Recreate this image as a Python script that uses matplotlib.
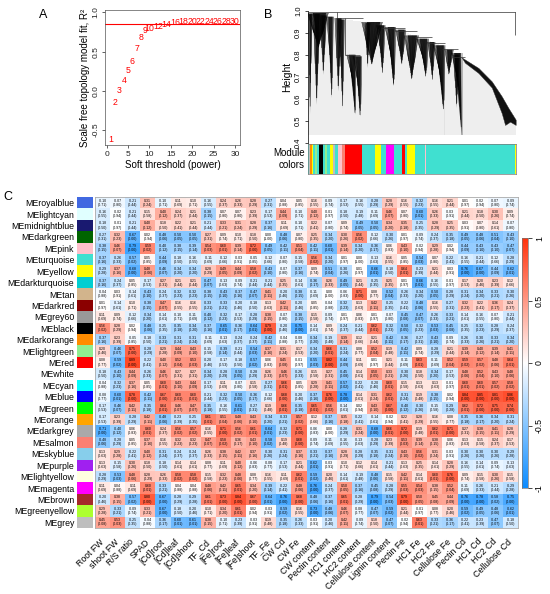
import math
import numpy as np
import matplotlib
matplotlib.use("Agg")
import matplotlib.pyplot as plt
from matplotlib.colors import LinearSegmentedColormap, ListedColormap
from matplotlib.collections import LineCollection, PolyCollection

plt.rcParams['font.family'] = ['Liberation Sans', 'DejaVu Sans']

# ---------------- Panel A data ----------------
sft_power = [1, 2, 3, 4, 5, 6, 7, 8, 9, 10, 12, 14, 16, 18, 20, 22, 24, 26, 28, 30]
sft_r2 = [-0.62, -0.15, 0.01, 0.13, 0.255, 0.37, 0.54, 0.68, 0.765, 0.79,
          0.82, 0.845, 0.87, 0.878, 0.885, 0.885, 0.887, 0.887, 0.888, 0.888]
r2_cutoff = 0.85

# ---------------- Panel B data ----------------
# spikes: (left frac, right frac, tip frac, top height, tip height)
dendro_spikes = [
    (0.000, 0.099, 0.051, 0.991, 0.832),
    (0.003, 0.022, 0.011, 0.986, 0.529),
    (0.027, 0.059, 0.043, 0.986, 0.574),
    (0.059, 0.091, 0.075, 0.980, 0.710),
    (0.091, 0.123, 0.115, 0.974, 0.605),
    (0.131, 0.163, 0.147, 0.968, 0.635),
    (0.147, 0.176, 0.167, 0.961, 0.559),
    (0.188, 0.231, 0.228, 0.801, 0.529),
    (0.220, 0.260, 0.252, 0.794, 0.521),
    (0.260, 0.359, 0.308, 0.950, 0.756),
    (0.276, 0.300, 0.288, 0.945, 0.741),
    (0.332, 0.372, 0.359, 0.935, 0.718),
    (0.372, 0.423, 0.413, 0.927, 0.658),
    (0.423, 0.471, 0.452, 0.915, 0.756),
    (0.465, 0.532, 0.500, 0.889, 0.688),
    (0.524, 0.580, 0.567, 0.874, 0.703),
    (0.577, 0.612, 0.599, 0.859, 0.688),
    (0.604, 0.660, 0.652, 0.844, 0.551),
    (0.660, 0.700, 0.679, 0.824, 0.710),
    (0.692, 0.740, 0.740, 0.809, 0.438),
    (0.700, 0.728, 0.716, 0.801, 0.559),
]
dendro_band_f = [0.740, 0.821, 0.885, 0.933, 0.965, 1.000, 1.000, 0.973, 0.949, 0.933, 0.885, 0.821, 0.756]
dendro_band_h = [0.789, 0.741, 0.680, 0.612, 0.559, 0.506, 0.482, 0.497, 0.482, 0.535, 0.652, 0.718, 0.765]
# horizontal merges: (f1, f2, h)
dendro_merges = [
    (0.000, 1.000, 0.995), (0.139, 0.268, 0.968), (0.179, 0.252, 0.801),
    (0.356, 0.468, 0.924), (0.420, 0.524, 0.909), (0.516, 0.596, 0.880),
    (0.580, 0.660, 0.853), (0.644, 0.724, 0.827), (0.692, 0.756, 0.789),
]
# vertical drops: (f, h_top, h_bottom)
dendro_drops = [(0.997, 0.995, 0.889), (0.179, 0.968, 0.801), (0.139, 0.995, 0.968)]
# roof envelope for the leaf lines
roof_f = [0.0, 0.10, 0.14, 0.27, 0.36, 0.42, 0.47, 0.52, 0.58, 0.64, 0.69, 0.74, 0.821, 0.885, 0.933, 0.965, 1.0]
roof_h = [0.99, 0.975, 0.968, 0.95, 0.93, 0.915, 0.905, 0.88, 0.865, 0.845, 0.82, 0.79, 0.741, 0.680, 0.612, 0.559, 0.506]
# module colour strip: (start frac, end frac, colour)
module_strip = [
    (0.000, 0.008, 'turquoise'), (0.008, 0.013, 'grey'), (0.013, 0.019, 'darkorange'),
    (0.019, 0.024, 'yellow'), (0.024, 0.037, 'turquoise'), (0.037, 0.043, 'lightgreen'),
    (0.043, 0.056, 'turquoise'), (0.056, 0.072, 'black'), (0.072, 0.083, 'turquoise'),
    (0.083, 0.094, 'lightgreen'), (0.094, 0.107, 'turquoise'), (0.107, 0.123, 'yellow'),
    (0.123, 0.131, 'grey'), (0.131, 0.144, 'turquoise'), (0.144, 0.166, 'pink'),
    (0.166, 0.178, 'salmon'), (0.178, 0.261, 'red'), (0.261, 0.325, 'turquoise'),
    (0.325, 0.354, 'yellow'), (0.354, 0.378, 'turquoise'), (0.378, 0.416, 'magenta'),
    (0.416, 0.454, 'turquoise'), (0.454, 0.470, 'red'), (0.470, 0.475, 'turquoise'),
    (0.475, 0.517, 'yellow'), (0.517, 0.563, 'turquoise'), (0.563, 0.571, 'pink'),
    (0.571, 0.997, 'turquoise'), (0.997, 1.000, 'yellow'),
]

# ---------------- Panel C data ----------------
modules = ['royalblue', 'lightcyan', 'midnightblue', 'darkgreen', 'pink', 'turquoise',
           'yellow', 'darkturquoise', 'tan', 'darkred', 'grey60', 'black', 'darkorange',
           'lightgreen', 'red', 'white', 'cyan', 'blue', 'green', 'orange', 'darkgrey',
           'salmon', 'skyblue', 'purple', 'lightyellow', 'magenta', 'brown',
           'greenyellow', 'grey']
traits = ['Root FW', 'shoot FW', 'R/S ratio', 'SPAD', '[Cd]root', '[Cd]leaf', '[Cd]shoot',
          'TF_Cd', '[Fe]root', '[Fe]leaf', '[Fe]shoot', 'TF_Fe', 'CW Cd', 'CW Fe',
          'CW content', 'Pectin content', 'HC1 content', 'HC2 content',
          'Cellulose content', 'Lignin content', 'Pectin Fe', 'HC1 Fe', 'HC2 Fe',
          'Cellulose Fe', 'Pectin Cd', 'HC1 Cd', 'HC2 Cd', 'Cellulose Cd']
n_samples = 16
module_trait_cor = [
    [-0.10, -0.07, -0.21, 0.31, -0.10, 0.11, 0.10, -0.16, 0.24, 0.26, 0.28, -0.27, 0.04, 0.05, 0.16, -0.09, -0.17, -0.16, -0.28, 0.28, 0.16, -0.32, 0.16, 0.21, 0.01, -0.02, -0.07, -0.09],
    [-0.16, -0.02, -0.21, 0.15, 0.40, 0.24, 0.21, -0.38, 0.07, 0.07, 0.23, -0.17, 0.44, -0.10, 0.40, -0.01, -0.18, -0.19, -0.11, 0.46, 0.07, -0.60, 0.26, -0.03, 0.21, 0.18, 0.30, 0.09],
    [-0.18, -0.01, -0.21, 0.40, 0.18, 0.22, 0.21, -0.21, 0.33, 0.31, 0.28, -0.37, 0.11, -0.10, 0.22, -0.07, 0.09, -0.49, -0.50, 0.34, 0.35, -0.25, 0.28, 0.25, 0.03, 0.07, 0.14, -0.07],
    [-0.27, 0.32, -0.67, 0.02, -0.48, -0.50, -0.50, 0.27, 0.09, 0.10, 0.18, 0.00, -0.48, 0.07, 0.25, -0.34, 0.30, 0.56, -0.12, -0.30, 0.01, -0.09, -0.24, -0.35, -0.49, -0.48, -0.51, -0.43],
    [-0.38, 0.46, -0.79, 0.59, -0.40, -0.38, -0.39, 0.54, 0.60, 0.39, 0.72, -0.49, -0.42, 0.51, -0.42, -0.60, 0.39, -0.34, -0.36, 0.06, 0.43, -0.02, 0.29, 0.02, -0.44, -0.43, -0.43, -0.47],
    [-0.37, -0.26, -0.57, 0.05, -0.44, -0.18, -0.16, -0.11, -0.12, -0.03, -0.05, -0.12, -0.07, -0.15, 0.56, -0.34, 0.01, 0.00, -0.13, 0.16, 0.05, -0.54, 0.07, -0.22, -0.16, -0.21, -0.12, -0.28],
    [-0.29, 0.37, -0.68, 0.48, -0.46, -0.34, -0.34, 0.28, 0.49, 0.44, 0.58, -0.43, -0.07, -0.37, 0.09, -0.51, -0.30, 0.01, -0.66, -0.18, 0.64, -0.23, 0.21, 0.03, -0.76, -0.67, -0.44, -0.62],
    [-0.37, -0.24, 0.05, -0.17, 0.27, 0.21, 0.21, -0.47, -0.13, -0.09, -0.21, -0.21, 0.25, -0.14, -0.36, 0.26, -0.49, 0.21, -0.25, 0.25, 0.01, -0.66, -0.16, -0.01, 0.17, 0.20, 0.23, 0.12],
    [-0.04, 0.03, -0.14, -0.43, -0.24, -0.32, -0.32, -0.38, -0.43, -0.37, -0.47, 0.41, -0.20, -0.38, -0.11, 0.00, -0.06, 0.71, 0.08, -0.52, -0.26, -0.34, -0.50, -0.28, -0.31, -0.34, -0.33, -0.30],
    [0.01, -0.14, 0.10, -0.38, 0.47, 0.16, 0.16, -0.33, -0.33, -0.20, -0.18, 0.13, 0.42, -0.20, 0.05, -0.04, -0.32, 0.13, 0.42, -0.25, -0.22, -0.48, 0.16, -0.27, 0.32, 0.22, 0.36, 0.24],
    [0.11, 0.09, -0.12, -0.34, -0.14, -0.10, -0.11, -0.40, -0.32, -0.17, -0.28, 0.38, -0.07, -0.38, 0.15, -0.09, 0.01, 0.06, 0.01, -0.07, -0.45, -0.47, -0.26, -0.33, -0.14, -0.16, -0.07, -0.21],
    [0.56, 0.28, 0.02, -0.48, -0.25, -0.35, -0.34, -0.37, -0.65, -0.36, -0.64, 0.79, -0.20, -0.75, -0.14, 0.09, -0.24, -0.21, 0.62, -0.32, -0.50, -0.32, -0.53, -0.45, -0.25, -0.32, -0.28, -0.24],
    [-0.37, 0.23, -0.05, -0.18, -0.33, -0.31, -0.31, -0.11, -0.13, -0.24, -0.24, -0.42, -0.04, -0.08, -0.34, -0.19, 0.39, 0.12, 0.21, -0.42, -0.36, -0.27, -0.43, -0.09, -0.26, -0.30, -0.33, -0.34],
    [0.20, -0.46, 0.75, -0.28, 0.29, 0.44, 0.43, -0.15, -0.39, -0.21, -0.54, 0.37, 0.31, 0.17, -0.34, 0.66, -0.31, 0.08, 0.52, 0.19, -0.42, 0.09, -0.28, 0.21, 0.39, 0.40, 0.39, 0.41],
    [0.08, -0.59, 0.89, -0.22, 0.40, 0.52, 0.53, -0.20, -0.17, -0.18, -0.57, 0.06, 0.45, -0.01, -0.55, 0.82, -0.44, 0.11, 0.01, 0.21, -0.11, 0.63, -0.11, 0.52, 0.59, 0.57, 0.48, 0.64],
    [-0.18, -0.43, 0.44, -0.26, 0.46, 0.27, 0.27, -0.34, -0.28, -0.50, -0.28, 0.26, 0.46, -0.26, 0.15, 0.27, -0.45, 0.14, 0.50, 0.33, -0.30, 0.18, -0.34, -0.17, 0.48, 0.52, 0.43, 0.48],
    [-0.04, -0.32, 0.37, 0.05, 0.60, 0.43, 0.44, -0.17, 0.11, -0.07, 0.15, -0.27, 0.66, 0.05, 0.29, 0.41, -0.57, -0.22, -0.20, 0.60, 0.15, 0.13, 0.13, -0.01, 0.60, 0.60, 0.57, 0.58],
    [-0.08, -0.60, 0.78, -0.42, 0.67, 0.60, 0.60, -0.21, -0.32, -0.50, -0.36, -0.12, 0.68, -0.20, -0.37, 0.76, -0.78, 0.14, 0.31, 0.62, -0.31, 0.19, -0.38, 0.02, 0.84, 0.85, 0.81, 0.86],
    [-0.17, -0.46, 0.42, -0.35, 0.64, 0.46, 0.47, -0.35, -0.16, -0.61, -0.27, 0.19, 0.66, -0.35, 0.65, 0.56, -0.14, 0.02, 0.43, 0.67, -0.40, -0.30, -0.15, -0.29, 0.62, 0.72, 0.75, 0.74],
    [-0.17, 0.23, -0.28, 0.42, -0.48, -0.23, -0.25, 0.61, 0.51, 0.48, 0.43, -0.34, -0.33, 0.57, 0.12, -0.37, 0.35, -0.22, -0.14, -0.02, 0.22, 0.28, 0.16, 0.08, -0.35, -0.36, -0.34, -0.31],
    [-0.71, -0.40, 0.06, 0.60, 0.24, 0.56, 0.57, 0.16, 0.71, 0.56, 0.61, -0.64, -0.32, 0.71, -0.06, 0.00, -0.28, 0.31, -0.68, 0.66, 0.72, 0.19, 0.62, 0.71, 0.27, 0.38, 0.41, 0.28],
    [-0.48, -0.28, 0.05, 0.37, 0.16, 0.32, 0.32, 0.47, 0.58, 0.36, 0.43, -0.58, 0.19, 0.68, -0.09, -0.11, -0.16, -0.13, -0.28, 0.23, 0.53, 0.39, 0.38, 0.06, 0.13, 0.15, 0.24, 0.17],
    [0.13, 0.29, -0.22, 0.40, -0.31, -0.24, -0.24, 0.26, 0.38, 0.42, 0.37, -0.30, -0.31, 0.37, -0.33, -0.37, 0.28, -0.28, -0.35, -0.31, 0.43, 0.56, 0.31, -0.03, -0.30, -0.30, -0.30, -0.29],
    [0.13, -0.15, 0.30, 0.18, -0.18, 0.14, 0.14, 0.08, 0.11, 0.40, -0.06, -0.08, -0.17, 0.21, -0.62, -0.03, 0.10, 0.12, 0.14, -0.21, 0.13, 0.25, 0.14, 0.28, -0.16, -0.14, -0.09, -0.13],
    [-0.28, -0.53, 0.48, 0.28, 0.26, 0.58, 0.58, 0.15, 0.32, 0.48, 0.08, 0.16, 0.11, 0.62, -0.59, 0.20, -0.14, -0.19, -0.48, 0.15, 0.42, 0.14, 0.60, 0.76, 0.09, 0.15, 0.30, 0.15],
    [0.11, 0.04, 0.11, 0.60, -0.33, 0.04, 0.04, 0.48, 0.42, 0.65, 0.34, -0.39, -0.22, 0.48, -0.76, -0.24, 0.50, -0.37, -0.45, -0.28, 0.55, 0.54, 0.38, 0.52, -0.11, -0.26, -0.21, -0.29],
    [-0.20, 0.38, -0.57, 0.80, -0.67, -0.28, -0.29, 0.61, 0.73, 0.84, 0.67, -0.64, -0.76, 0.68, -0.48, -0.37, 0.65, -0.28, -0.79, -0.54, 0.79, 0.50, 0.45, 0.44, -0.76, -0.78, -0.58, -0.75],
    [0.29, -0.33, -0.09, 0.33, -0.67, -0.18, -0.20, 0.10, 0.34, 0.61, 0.02, -0.03, -0.59, 0.16, -0.73, -0.48, 0.46, -0.08, -0.47, -0.59, 0.21, -0.01, 0.08, 0.20, -0.59, -0.49, -0.48, -0.62],
    [0.45, 0.53, -0.25, -0.04, -0.36, -0.60, -0.61, 0.38, -0.10, -0.23, -0.03, 0.19, -0.35, -0.26, -0.03, -0.20, 0.42, -0.09, 0.18, -0.47, -0.02, 0.63, -0.33, -0.36, -0.22, -0.23, -0.47, -0.18],
]

R_COLORS = {
    'royalblue': '#4169E1', 'lightcyan': '#E0FFFF', 'midnightblue': '#191970',
    'darkgreen': '#006400', 'pink': '#FFC0CB', 'turquoise': '#40E0D0', 'yellow': '#FFFF00',
    'darkturquoise': '#00CED1', 'tan': '#D2B48C', 'darkred': '#8B0000', 'grey60': '#999999',
    'black': '#000000', 'darkorange': '#FF8C00', 'lightgreen': '#90EE90', 'red': '#FF0000',
    'white': '#FFFFFF', 'cyan': '#00FFFF', 'blue': '#0000FF', 'green': '#00FF00',
    'orange': '#FFA500', 'darkgrey': '#A9A9A9', 'salmon': '#FA8072', 'skyblue': '#87CEEB',
    'purple': '#A020F0', 'lightyellow': '#FFFFE0', 'magenta': '#FF00FF', 'brown': '#A52A2A',
    'greenyellow': '#ADFF2F', 'grey': '#BEBEBE',
}


def cor_pvalue(r, n):
    df = n - 2
    if abs(r) >= 0.9999:
        return 0.0
    t = abs(r) * math.sqrt(df / (1 - r * r))
    c = math.gamma((df + 1) / 2) / (math.sqrt(df * math.pi) * math.gamma(df / 2))
    x = np.linspace(t, t + 80, 40001)
    pdf = c * (1 + x * x / df) ** (-(df + 1) / 2)
    return float(min(1.0, 2 * np.trapezoid(pdf, x)))


W, H = 550, 594
fig = plt.figure(figsize=(W / 100, H / 100), dpi=100)


def ax_px(x0, y0, x1, y1):
    return fig.add_axes([x0 / W, 1 - y1 / H, (x1 - x0) / W, (y1 - y0) / H])


# ---------------- Panel A ----------------
axA = ax_px(105, 10, 240, 145)
for p, r in zip(sft_power, sft_r2):
    axA.text(p, r, str(p), color='red', ha='center', va='center', fontsize=6.3)
axA.axhline(r2_cutoff, color='red', lw=0.8)
axA.set_xlim(-0.4, 31.2)
axA.set_ylim(-0.69, 1.03)
axA.set_xticks([0, 5, 10, 15, 20, 25, 30])
axA.set_yticks([-0.5, 0.0, 0.5, 1.0])
axA.set_yticklabels(['-0.5', '0.0', '0.5', '1.0'], rotation=90, va='center')
axA.tick_params(labelsize=6, length=2.5, width=0.5, pad=1.5, colors='#222222')
axA.set_xlabel('Soft threshold (power)', fontsize=7, labelpad=2)
axA.set_ylabel('Scale free topology model fit, R²', fontsize=7, labelpad=2)
for s in axA.spines.values():
    s.set_linewidth(0.5)
    s.set_color('#555555')

# ---------------- Panel B ----------------
axB = ax_px(307.7, 11, 515.7, 143)
axB.set_xlim(0, 1)
axB.set_ylim(0.4, 1.0)
# faint leaf lines
leaf_x = np.linspace(0.003, 0.997, 105)
leaf_top = np.interp(leaf_x, roof_f, roof_h)
axB.add_collection(LineCollection([[(x, 0.435), (x, h)] for x, h in zip(leaf_x, leaf_top)],
                                  colors='#bdbdbd', linewidths=0.35, zorder=1))
# each spike drawn as a soft core plus a brush of thin branch lines
cores = []
brush = []
for fl, fr, ft, ht, hb in dendro_spikes:
    wdt = fr - fl
    cores.append([(fl + 0.25 * wdt, ht), (fr - 0.1 * wdt, ht), (ft, hb)])
    n = max(5, int(wdt * 260))
    for k in range(n):
        xt = fl + wdt * k / (n - 1)
        closeness = 1 - abs(xt - ft) / wdt
        hb_k = ht - (ht - hb) * (0.3 + 0.7 * closeness ** 1.5)
        xb = xt + (ft - xt) * 0.55
        brush.append([(xt, ht), (xb, hb_k)])
axB.add_collection(PolyCollection(cores, facecolors='#1a1a1a', edgecolors='none', alpha=0.85, zorder=3))
axB.add_collection(LineCollection(brush, colors='black', linewidths=0.35, zorder=3))
axB.add_collection(PolyCollection([list(zip(dendro_band_f, dendro_band_h))], facecolors='#111111',
                                  edgecolors='#333333', linewidths=0.3, zorder=3))
axB.add_collection(LineCollection([[(f1, h), (f2, h)] for f1, f2, h in dendro_merges],
                                  colors='#333333', linewidths=0.5, zorder=4))
axB.add_collection(LineCollection([[(f, h1), (f, h2)] for f, h1, h2 in dendro_drops],
                                  colors='#333333', linewidths=0.5, zorder=4))
axB.set_yticks([0.4, 0.5, 0.6, 0.7, 0.8, 0.9, 1.0])
axB.set_yticklabels(['0.4', '0.5', '0.6', '0.7', '0.8', '0.9', '1.0'], rotation=90, va='center')
axB.tick_params(axis='y', labelsize=5.5, length=2.5, width=0.5, pad=1.5)
axB.set_xticks([])
for k in ['top', 'right', 'bottom']:
    axB.spines[k].set_visible(False)
axB.spines['left'].set_linewidth(0.5)
axB.set_ylabel('Height', fontsize=7.5, labelpad=2)

axBc = ax_px(307.7, 143.5, 515.7, 174)
for f0, f1, c in module_strip:
    axBc.axvspan(f0, f1, color=R_COLORS[c], lw=0)
axBc.set_xlim(0, 1)
axBc.set_ylim(0, 1)
axBc.set_xticks([])
axBc.set_yticks([])
for s in axBc.spines.values():
    s.set_linewidth(0.5)
    s.set_color('#777777')
fig.text(305 / W, 1 - 159 / H, 'Module\ncolors', ha='right', va='center', fontsize=7, linespacing=1.15)

# ---------------- Panel C ----------------
bwr = LinearSegmentedColormap.from_list('bwr_wgcna', [(0.05, 0.55, 1.0), (1, 1, 1), (1.0, 0.2, 0.05)])
cor = np.array(module_trait_cor)
nr, nc = cor.shape

axC = ax_px(95, 197, 518, 528)
axC.pcolormesh(np.arange(nc + 1), np.arange(nr + 1), cor, cmap=bwr, vmin=-1, vmax=1)
axC.set_xlim(0, nc)
axC.set_ylim(nr, 0)
for i in range(nr):
    for j in range(nc):
        r = cor[i, j]
        p = cor_pvalue(r, n_samples)
        axC.text(j + 0.5, i + 0.5, f"{r:.2f}\n({p:.2f})", ha='center', va='center',
                 fontsize=2.5, linespacing=1.05, color='black')
axC.set_yticks([])
axC.set_xticks(np.arange(nc) + 0.5)
axC.set_xticklabels(traits, rotation=45, ha='right', va='center', rotation_mode='anchor', fontsize=6.3)
axC.tick_params(axis='x', length=0, pad=9)
for s in axC.spines.values():
    s.set_linewidth(0.6)
    s.set_color('#aaaaaa')

axS = ax_px(77, 197, 93, 528)
sw = np.arange(nr).reshape(-1, 1)
axS.pcolormesh([0, 1], np.arange(nr + 1), sw, cmap=ListedColormap([R_COLORS[m] for m in modules]),
               vmin=-0.5, vmax=nr - 0.5)
axS.set_xlim(0, 1)
axS.set_ylim(nr, 0)
axS.set_xticks([])
axS.set_yticks(np.arange(nr) + 0.5)
axS.set_yticklabels(['ME' + m for m in modules], fontsize=6.3)
axS.tick_params(axis='y', length=0, pad=2)
for s in axS.spines.values():
    s.set_visible(False)

axK = ax_px(522, 238, 528, 488)
grad = np.linspace(-1, 1, 256).reshape(-1, 1)
axK.imshow(grad, cmap=bwr, vmin=-1, vmax=1, aspect='auto', origin='lower', extent=[0, 1, -1, 1])
axK.set_xticks([])
axK.yaxis.tick_right()
axK.set_yticks([-1, -0.5, 0, 0.5, 1])
axK.set_yticklabels(['-1', '-0.5', '0', '0.5', '1'], rotation=90, va='center')
axK.tick_params(axis='y', labelsize=6.3, length=3, width=0.5, pad=2)
for s in axK.spines.values():
    s.set_linewidth(0.5)
    s.set_color('#777777')

# panel letters
fig.text(43 / W, 1 - 15 / H, 'A', fontsize=9, ha='center', va='center')
fig.text(268 / W, 1 - 15 / H, 'B', fontsize=9, ha='center', va='center')
fig.text(8 / W, 1 - 197 / H, 'C', fontsize=9, ha='center', va='center')

fig.savefig('out.png', dpi=100)
